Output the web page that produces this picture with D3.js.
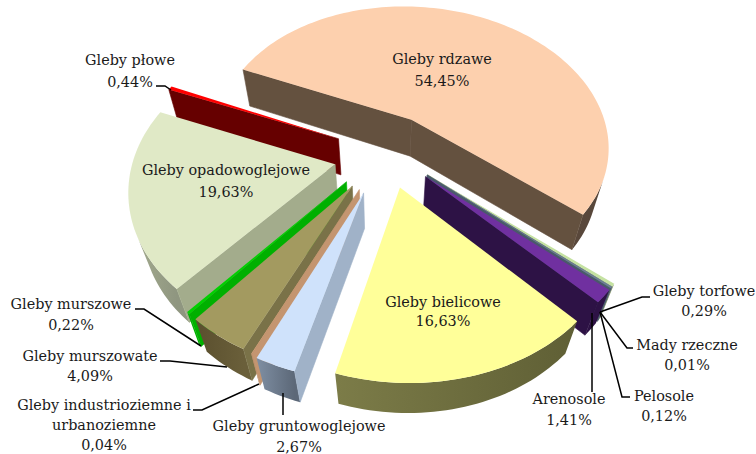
<!DOCTYPE html>
<html><head><meta charset="utf-8">
<script src="https://cdn.jsdelivr.net/npm/d3@7"></script>
<style>html,body{margin:0;padding:0;background:#fff}svg{display:block}</style>
</head><body><div id="c"></div>
<script>
const categories=["Gleby rdzawe","Gleby torfowe","Mady rzeczne","Pelosole","Arenosole","Gleby bielicowe","Gleby gruntowoglejowe","Gleby industrioziemne i urbanoziemne","Gleby murszowate","Gleby murszowe","Gleby opadowoglejowe","Gleby płowe"];
const values=[54.45,0.29,0.01,0.12,1.41,16.63,2.67,0.04,4.09,0.22,19.63,0.44];
const topColors=["#fdd0ae","#c5e2a2","#8fa3b8","#6d7f96","#7030a0","#ffff99","#cfe2fb","#dba680","#a39a60","#00d000","#e0e9c6","#ff0000"];
const faceColors=["#64513f","#8a9a70","#5a6a7a","#4a5a6a","#2d1245","#66663a","#a0b2c8","#c49570","#7a7248","#00b000","#a3ac8c","#660000"];
const wallFrom=["#6e5a48","#8a9a70","#5a6a7a","#4a5a6a","#2d1245","#7c7c48","#7f8fa3","#c49570","#5a4f2e","#00b000","#a6ad90","#660000"];
const wallTo=["#57463a","#8a9a70","#5a6a7a","#4a5a6a","#2d1245","#5f5f35","#5c6878","#c49570","#6a5f3a","#00b000","#8f9680","#660000"];
const drawOrder=[0,1,2,3,4,11,10,9,8,7,6,5];
const layoutNudgeX=[0,0,0,0,0,0,-4,-4,-5,-5,0,0];
const layoutNudgeY=[0,0,0,0,0,0,7,5,4,3,6,3];
const layoutRadius=[1,1,1,1,1,1.03,1,1,1,1,1.005,1];

const W=756,H=454,pad=Math.PI/180;
const P={cx:386,cy:150,a:142,b:.17,c:200,s:-5,g:.055,h:38,e:.26};
function project(u,v,z,dx,dy){const w=1+P.b*v-P.g*z;return [P.cx+dx+(P.c*u+P.s*v)/w,P.cy+dy-(P.a*v+P.h*z)/w];}

const arcs=d3.pie().sort(null).startAngle(294*pad).endAngle((294+360)*pad)(values);
const line=d3.line();
const svg=d3.select("#c").append("svg").attr("width",W).attr("height",H);
const defs=svg.append("defs");

drawOrder.forEach(i=>{
  const s=arcs[i],mid=(s.startAngle+s.endAngle)/2,dx=layoutNudgeX[i],dy=layoutNudgeY[i],r=layoutRadius[i];
  const ox=Math.sin(mid)*P.e,oy=Math.cos(mid)*P.e;
  const n=Math.max(2,Math.ceil((s.endAngle-s.startAngle)/(1.5*pad)));
  const ang=d3.range(n+1).map(k=>s.startAngle+(s.endAngle-s.startAngle)*k/n);
  const rim=ang.map(t=>[ox+r*Math.sin(t),oy+r*Math.cos(t)]);
  const top=rim.map(p=>project(p[0],p[1],0,dx,dy)),bot=rim.map(p=>project(p[0],p[1],-1,dx,dy));
  const A=project(ox,oy,0,dx,dy),B=project(ox,oy,-1,dx,dy);
  const g=svg.append("g");
  const xs=d3.extent(top,d=>d[0]);
  const id="w"+i;
  const lg=defs.append("linearGradient").attr("id",id).attr("gradientUnits","userSpaceOnUse")
    .attr("x1",xs[0]).attr("x2",xs[1]).attr("y1",0).attr("y2",0);
  lg.append("stop").attr("offset",0).attr("stop-color",wallFrom[i]);
  lg.append("stop").attr("offset",1).attr("stop-color",wallTo[i]);
  let run=[];
  const flush=()=>{ if(run.length>1){
      const idx=run;
      g.append("path").attr("d",line(idx.map(k=>top[k]).concat(idx.map(k=>bot[k]).reverse()))+"Z").attr("fill",`url(#${id})`);
    } run=[]; };
  for(let k=0;k<n;k++){
    const vis=d3.polygonArea([top[k],top[k+1],bot[k+1],bot[k]])>0;
    if(vis){ if(!run.length) run.push(k); run.push(k+1); } else flush();
  }
  flush();
  [[A,top[0],bot[0],B],[top[n],A,B,bot[n]]].forEach(q=>{
    if(d3.polygonArea(q)>0) g.append("path").attr("d",line(q)+"Z").attr("fill",faceColors[i]).attr("stroke",faceColors[i]).attr("stroke-width",.6);
  });
  g.append("path").attr("d",line([A].concat(top))+"Z").attr("fill",topColors[i]);
});

const fmt=d3.formatLocale({decimal:",",thousands:" ",grouping:[3],currency:["",""]}).format(".2f");
const labelBoxes=[
 {i:0,x:442,y:[64,86]},{i:1,x:704,y:[296,316]},{i:2,x:687,y:[350,370]},{i:3,x:664,y:[401,421]},
 {i:4,x:569,y:[404,425]},{i:5,x:443,y:[307,326]},{i:6,x:299,y:[431,452]},{i:7,x:104,y:[410,430,450]},
 {i:8,x:90,y:[361,381]},{i:9,x:71,y:[309,330]},{i:10,x:226,y:[175,197]},{i:11,x:130,y:[65,87]}];
const leaders=[
 [[156,86],[165,86],[171,90]],
 [[135,309],[144,309],[201,346]],
 [[160,361],[170,361],[227,367]],
 [[193,410],[202,410],[259,384]],
 [[283,393],[283,415]],
 [[600,312],[642,297],[650,297]],
 [[600,312],[627,348],[633,348]],
 [[600,312],[622,397],[630,397]],
 [[592,313],[592,392]]];
svg.append("g").selectAll("path").data(leaders).join("path").attr("d",d=>line(d)).attr("fill","none").attr("stroke","#000").attr("stroke-width",1.5);
const t=svg.append("g").attr("font-family","'DejaVu Serif'").attr("font-size",14.4).attr("fill","#1a1a1a").attr("text-anchor","middle");
labelBoxes.forEach(l=>{
  const name=categories[l.i];
  const lines=l.i===7?["Gleby industrioziemne i","urbanoziemne"]:[name];
  lines.concat([fmt(values[l.i])+"%"]).forEach((s,k)=>t.append("text").attr("x",l.x).attr("y",l.y[k]).text(s));
});
</script></body></html>
